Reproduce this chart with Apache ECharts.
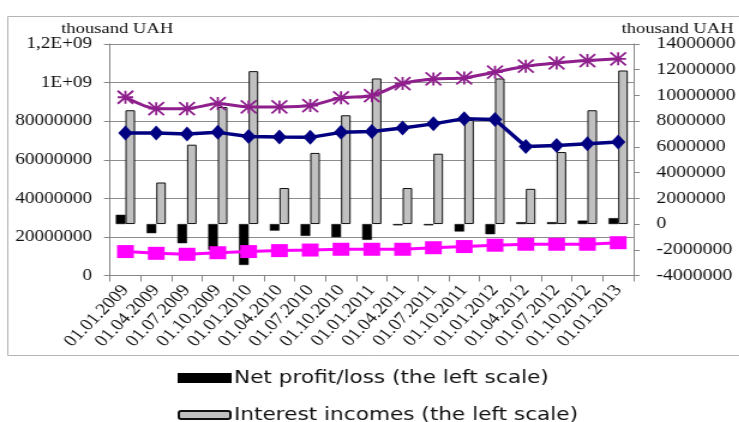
<!DOCTYPE html>
<html>
<head>
<meta charset="utf-8">
<script src="https://cdn.jsdelivr.net/npm/echarts@6/dist/echarts.min.js"></script>
<style>
  html, body { margin: 0; padding: 0; background: #fff; overflow: hidden; }
  #wrap { width: 739px; height: 422px; overflow: hidden; }
  #c { width: 616px; height: 422px; transform: scaleX(1.2); transform-origin: 0 0; }
</style>
</head>
<body>
<div id="wrap"><div id="c"></div></div>
<script>
const categories = ['01.01.2009','01.04.2009','01.07.2009','01.10.2009','01.01.2010','01.04.2010','01.07.2010','01.10.2010','01.01.2011','01.04.2011','01.07.2011','01.10.2011','01.01.2012','01.04.2012','01.07.2012','01.10.2012','01.01.2013'];

// right scale (bars)
const netProfit = [720000,-710000,-1490000,-2000000,-3180000,-510000,-920000,-1020000,-1230000,-100000,-100000,-580000,-790000,150000,150000,270000,460000];
const interestIncomes = [8850000,3230000,6170000,9100000,11890000,2800000,5530000,8460000,11320000,2800000,5470000,8100000,11320000,2740000,5600000,8850000,11940000];

// left scale (lines), in axis units (millions)
const navyLine = [739,739,734,742,721,718,716,742,747,765,786,813,808,669,674,683,692];
const purpleLine = [924,865,865,891,874,874,881,921,932,995,1019,1024,1054,1085,1102,1114,1123];
const magentaLine = [124,115,110,118,124,129,132,136,136,136,144,150,157,162,162,162,170];

const leftTickLabels = ['0','20000000','40000000','60000000','80000000','1E+09','1,2E+09'];
const unitLabel = 'thousand UAH';
const legendNames = ['Net profit/loss (the left scale)','Interest incomes (the left scale)'];

const serif = '"Liberation Serif", "Times New Roman", serif';
const sans = '"DejaVu Sans", Verdana, sans-serif';

const chart = echarts.init(document.getElementById('c'));
chart.setOption({
  backgroundColor: '#fff',
  animation: false,
  graphic: [{
    type: 'rect',
    shape: { x: 6.5, y: 16.5, width: 640, height: 339 },
    style: { fill: 'none', stroke: '#b4b4b4', lineWidth: 1 },
    silent: true, z: -1
  }],
  title: [
    { text: unitLabel, left: 46, top: 16, textStyle: { fontFamily: serif, fontSize: 15.5, fontWeight: 'normal', color: '#111' } },
    { text: unitLabel, left: 513, top: 16, textStyle: { fontFamily: serif, fontSize: 15.5, fontWeight: 'normal', color: '#111' } }
  ],
  legend: [
    {
      data: [legendNames[0]], left: 143, top: 364, orient: 'vertical',
      itemWidth: 43, itemHeight: 8, itemGap: 0, selectedMode: false,
      textStyle: { fontFamily: sans, fontSize: 18, color: '#111', padding: [0,0,0,-2] },
      icon: 'rect'
    },
    {
      data: [legendNames[1]], left: 143, top: 401, orient: 'vertical',
      itemWidth: 43, itemHeight: 8, itemGap: 0, selectedMode: false,
      textStyle: { fontFamily: sans, fontSize: 18, color: '#111', padding: [0,0,0,-2] },
      icon: 'roundRect'
    }
  ],
  grid: { left: 91.7, right: 76.8, top: 44, bottom: 146.5, containLabel: false },
  xAxis: {
    type: 'category',
    data: categories,
    boundaryGap: true,
    axisLine: { onZero: false, lineStyle: { color: '#868686', width: 1 } },
    axisTick: { show: true, length: 6, lineStyle: { color: '#868686' } },
    axisLabel: { rotate: 50, margin: 12, interval: 0, fontFamily: serif, fontSize: 16.5, color: '#111' },
    splitLine: { show: false }
  },
  yAxis: [
    {
      type: 'value', min: 0, max: 1200, interval: 200, position: 'left',
      axisLine: { show: true, lineStyle: { color: '#868686' } },
      axisTick: { show: true, length: 5, lineStyle: { color: '#868686' } },
      axisLabel: { margin: 15, fontFamily: serif, fontSize: 16, color: '#111',
        formatter: v => leftTickLabels[Math.round(v / 200)] },
      splitLine: { show: true, lineStyle: { color: '#8c8c8c', width: 1 } }
    },
    {
      type: 'value', min: -4000000, max: 14000000, interval: 2000000, position: 'right',
      axisLine: { show: true, lineStyle: { color: '#868686' } },
      axisTick: { show: true, length: 5, lineStyle: { color: '#868686' } },
      axisLabel: { margin: 19, fontFamily: serif, fontSize: 16.5, color: '#111',
        formatter: v => String(v) },
      splitLine: { show: false }
    }
  ],
  series: [
    {
      name: legendNames[0], type: 'bar', yAxisIndex: 1, data: netProfit,
      barWidth: 8, barGap: '0%',
      itemStyle: { color: '#000', borderColor: '#000', borderWidth: 0.5 }
    },
    {
      name: legendNames[1], type: 'bar', yAxisIndex: 1, data: interestIncomes,
      barWidth: 8, barGap: '0%',
      itemStyle: { color: '#c0c0c0', borderColor: '#111', borderWidth: 1 }
    },
    {
      name: 'purple', type: 'line', yAxisIndex: 0, data: purpleLine,
      symbol: 'path://M0,0L10,10M10,0L0,10M5,0L5,10M0,5L10,5',
      symbolSize: [13, 13],
      lineStyle: { color: '#8e1f8c', width: 3 },
      itemStyle: { color: 'rgba(0,0,0,0)', borderColor: '#8e1f8c', borderWidth: 1.8 },
      smooth: 0.25
    },
    {
      name: 'navy', type: 'line', yAxisIndex: 0, data: navyLine,
      symbol: 'diamond', symbolSize: [12, 15],
      lineStyle: { color: '#000080', width: 3.5 },
      itemStyle: { color: '#000080' }
    },
    {
      name: 'magenta', type: 'line', yAxisIndex: 0, data: magentaLine,
      symbol: 'rect', symbolSize: [14, 13],
      lineStyle: { color: '#ff00ff', width: 3 },
      itemStyle: { color: '#ff00ff' }
    }
  ]
});
</script>
</body>
</html>
